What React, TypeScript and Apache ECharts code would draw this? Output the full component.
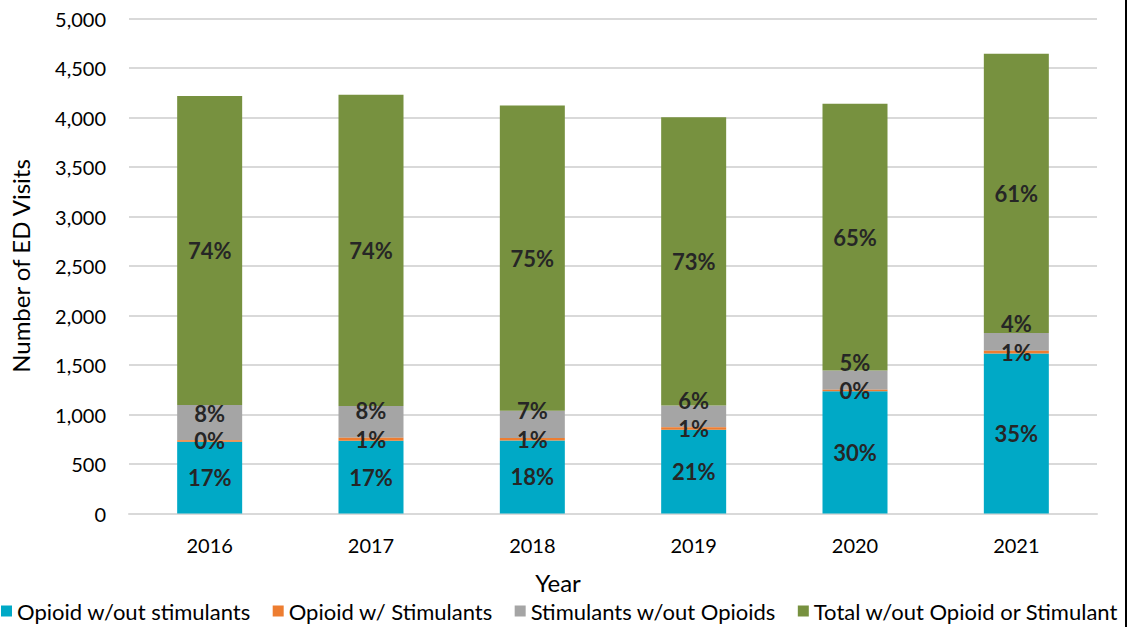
import React, { useEffect, useRef } from "react";
import * as echarts from "echarts";

const years = ["2016", "2017", "2018", "2019", "2020", "2021"];
const opioidNoStim = [725, 735, 738, 845, 1234, 1615];
const opioidWithStim = [15, 30, 25, 25, 15, 30];
const stimNoOpioid = [356, 321, 275, 222, 195, 179];
const neither = [3121, 3144, 3082, 2910, 2695, 2819];
const yTicks = [0, 5000, 500];

const seriesNames = [
  "Opioid w/out stimulants",
  "Opioid w/ Stimulants",
  "Stimulants w/out Opioids",
  "Total w/out Opioid or Stimulant",
];
const colors = ["#00A9C6", "#ED7D31", "#A5A5A5", "#77913F"];

const FONT = "Lato, 'Noto Sans', sans-serif";

const totals = years.map(
  (_, i) => opioidNoStim[i] + opioidWithStim[i] + stimNoOpioid[i] + neither[i]
);

const pctLabel = (p: any) =>
  `${Math.round((p.value / totals[p.dataIndex]) * 100)}%`;

export default function App() {
  const ref = useRef<HTMLDivElement>(null);

  useEffect(() => {
    if (!ref.current) return;
    const chart = echarts.init(ref.current, null, { renderer: "svg" });
    const labelBase = {
      show: true,
      formatter: pctLabel,
      fontFamily: FONT,
      fontWeight: "bold" as const,
      fontSize: 22,
      color: "#262626",
    };
    const datasets = [opioidNoStim, opioidWithStim, stimNoOpioid, neither];
    chart.setOption({
      animation: false,
      backgroundColor: "#ffffff",
      grid: { left: 120, right: 33, top: 18.5, bottom: 113.5, containLabel: false },
      legend: {
        left: -4,
        bottom: 0,
        icon: "rect",
        itemWidth: 11,
        itemHeight: 11,
        itemGap: 22,
        textStyle: { fontFamily: FONT, fontSize: 22, color: "#000000" },
        data: seriesNames,
      },
      xAxis: {
        type: "category",
        data: years,
        name: "Year",
        nameLocation: "middle",
        nameGap: 57,
        nameTextStyle: {
          fontFamily: FONT,
          fontSize: 24,
          color: "#000000",
          padding: [0, 110, 0, 0],
        },
        axisTick: { show: false },
        axisLine: { lineStyle: { color: "#D9D9D9", width: 2 } },
        axisLabel: { fontFamily: FONT, fontSize: 20, color: "#000000", margin: 21 },
      },
      yAxis: {
        type: "value",
        min: yTicks[0],
        max: yTicks[1],
        interval: yTicks[2],
        name: "Number of ED Visits",
        nameLocation: "middle",
        nameGap: 97,
        nameTextStyle: { fontFamily: FONT, fontSize: 24, color: "#000000" },
        axisLine: { show: false },
        axisTick: { show: false },
        splitLine: { lineStyle: { color: "#D9D9D9", width: 2 } },
        axisLabel: {
          fontFamily: FONT,
          fontSize: 20,
          color: "#000000",
          margin: 23,
          formatter: (v: number) => v.toLocaleString("en-US"),
        },
      },
      series: datasets.map((d, k) => ({
        name: seriesNames[k],
        type: "bar",
        stack: "total",
        barWidth: 65,
        data: d,
        itemStyle: { color: colors[k] },
        label:
          k === 2
            ? { ...labelBase, position: "insideBottom", distance: 16 }
            : { ...labelBase, position: "inside" },
        z: k === 1 ? 3 : 2,
      })),
      graphic: [
        {
          type: "rect",
          shape: { x: 1125, y: 0, width: 2, height: 627 },
          style: { fill: "#000000" },
          z: 100,
        },
      ],
    });
    return () => chart.dispose();
  }, []);

  return (
    <div
      ref={ref}
      style={{ position: "fixed", left: 0, top: 0, width: 1130, height: 627 }}
    />
  );
}
